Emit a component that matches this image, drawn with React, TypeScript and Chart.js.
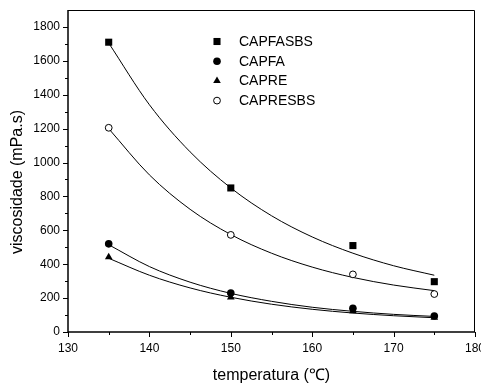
import { useEffect, useRef } from 'react';
import { Chart, registerables } from 'chart.js';
import { drawPoint } from 'chart.js/helpers';

Chart.register(...registerables);

// Measured viscosity (mPa.s) of each binder at the test temperatures (°C)
const seriesNames = ['CAPFASBS', 'CAPFA', 'CAPRE', 'CAPRESBS'];
const temperatures = [135, 150, 165, 175];
const capfasbs = [1710, 850, 510, 297];
const capfa = [520, 230, 140, 94];
const capre = [442, 205, 124, 86];
const capresbs = [1205, 573, 340, 224];

// Fitted decay curves, sampled every 5 °C
const fitTemperatures = [135, 140, 145, 150, 155, 160, 165, 170, 175];
const capfasbsFit = [1705, 1341, 1063, 850, 686, 561, 465, 391, 335];
const capfaFit = [515, 386, 294, 228, 181, 146, 122, 104, 92];
const capreFit = [435, 335, 260, 205, 164, 134, 112, 96, 84];
const capresbsFit = [1200, 927, 724, 575, 465, 383, 322, 277, 244];

const xTitle = 'temperatura (℃)';
const yTitle = 'viscosidade (mPa.s)';

const FONT = '"Liberation Sans", Arial, Helvetica, sans-serif';

type Marker = {
  pointStyle: 'rect' | 'circle' | 'triangle';
  radius: number;
  fill: string;
};

const markers: Marker[] = [
  { pointStyle: 'rect', radius: 5, fill: '#000' },
  { pointStyle: 'circle', radius: 3.8, fill: '#000' },
  { pointStyle: 'triangle', radius: 4.4, fill: '#000' },
  { pointStyle: 'circle', radius: 3.4, fill: '#fff' },
];

const measured = [capfasbs, capfa, capre, capresbs];
const fitted = [capfasbsFit, capfaFit, capreFit, capresbsFit];

// Frame, tick marks, axis titles and the inset legend
const decorations = {
  id: 'decorations',
  afterDraw(chart: Chart) {
    const { ctx, chartArea } = chart;
    const { left, right, top, bottom } = chartArea;
    const x = chart.scales.x;
    const y = chart.scales.y;
    ctx.save();
    ctx.strokeStyle = '#000';
    ctx.fillStyle = '#000';

    // plot frame
    ctx.lineWidth = 1;
    ctx.beginPath();
    ctx.moveTo(left, top + 0.5);
    ctx.lineTo(right - 0.5, top + 0.5);
    ctx.lineTo(right - 0.5, bottom);
    ctx.stroke();
    ctx.lineWidth = 1.5;
    ctx.beginPath();
    ctx.moveTo(left, top);
    ctx.lineTo(left, bottom);
    ctx.lineTo(right, bottom);
    ctx.stroke();

    // y ticks: major on labelled values, minor halfway between
    ctx.lineWidth = 1;
    const yVals = y.ticks.map((t) => t.value);
    ctx.beginPath();
    yVals.forEach((v, i) => {
      const py = Math.round(y.getPixelForValue(v)) + 0.5;
      ctx.moveTo(left - 5, py);
      ctx.lineTo(left, py);
      if (i < yVals.length - 1) {
        const pm = Math.round(y.getPixelForValue((v + yVals[i + 1]) / 2)) + 0.5;
        ctx.moveTo(left - 3, pm);
        ctx.lineTo(left, pm);
      }
    });
    const xVals = x.ticks.map((t) => t.value);
    xVals.forEach((v, i) => {
      const px = Math.round(x.getPixelForValue(v)) + 0.5;
      ctx.moveTo(px, bottom);
      ctx.lineTo(px, bottom + 5);
      if (i < xVals.length - 1) {
        const pm = Math.round(x.getPixelForValue((v + xVals[i + 1]) / 2)) + 0.5;
        ctx.moveTo(pm, bottom);
        ctx.lineTo(pm, bottom + 3);
      }
    });
    ctx.stroke();

    // axis titles
    ctx.font = `16px ${FONT}`;
    ctx.textAlign = 'center';
    ctx.textBaseline = 'alphabetic';
    ctx.fillText(xTitle, (left + right) / 2, 379.5);
    ctx.save();
    ctx.translate(21.5, 182);
    ctx.rotate(-Math.PI / 2);
    ctx.fillText(yTitle, 0, 0);
    ctx.restore();

    // legend
    ctx.font = `14px ${FONT}`;
    ctx.textAlign = 'left';
    ctx.textBaseline = 'middle';
    seriesNames.forEach((name, i) => {
      const rowY = 41.5 + i * 19.7;
      const m = markers[i];
      ctx.fillStyle = m.fill;
      ctx.strokeStyle = '#000';
      ctx.lineWidth = 1;
      drawPoint(ctx, { pointStyle: m.pointStyle, radius: m.radius, rotation: 0, borderWidth: m.fill === '#fff' ? 1 : 0 }, 217, rowY);
      ctx.fillStyle = '#000';
      ctx.fillText(name, 239, rowY + 0.5);
    });
    ctx.restore();
  },
};

export default function App() {
  const canvasRef = useRef<HTMLCanvasElement>(null);

  useEffect(() => {
    if (!canvasRef.current) return;

    const curveSets = fitted.map((vals, i) => ({
      type: 'line' as const,
      label: seriesNames[i] + ' fit',
      data: fitTemperatures.map((t, j) => ({ x: t, y: vals[j] })),
      borderColor: '#000',
      borderWidth: 1,
      pointRadius: 0,
      cubicInterpolationMode: 'monotone' as const,
      fill: false,
      order: 2,
    }));

    const pointSets = measured.map((vals, i) => ({
      type: 'scatter' as const,
      label: seriesNames[i],
      data: temperatures.map((t, j) => ({ x: t, y: vals[j] })),
      pointStyle: markers[i].pointStyle,
      pointRadius: markers[i].radius,
      backgroundColor: markers[i].fill,
      borderColor: '#000',
      pointBorderWidth: markers[i].fill === '#fff' ? 1 : 0,
      showLine: false,
      order: 1,
    }));

    const chart = new Chart(canvasRef.current, {
      type: 'scatter',
      data: { datasets: [...curveSets, ...pointSets] as any },
      plugins: [decorations],
      options: {
        animation: false,
        responsive: true,
        maintainAspectRatio: false,
        devicePixelRatio: 1,
        events: [],
        layout: { padding: { left: 0, top: 10, right: 6, bottom: 0 } },
        plugins: {
          legend: { display: false },
          tooltip: { enabled: false },
        },
        scales: {
          x: {
            type: 'linear',
            min: 130,
            max: 180,
            grid: { display: false, drawTicks: true, tickLength: 5 },
            border: { display: false },
            ticks: {
              stepSize: 10,
              padding: 4,
              color: '#000',
              maxRotation: 0,
              font: { family: FONT, size: 12 },
              callback: (v: any) => String(v),
            },
            afterFit: (scale: any) => {
              scale.height = 52;
              scale.paddingLeft = 0;
              scale.paddingRight = 0;
            },
          },
          y: {
            type: 'linear',
            min: 0,
            max: 1900,
            grid: { display: false, drawTicks: true, tickLength: 5 },
            border: { display: false },
            ticks: {
              stepSize: 200,
              includeBounds: false,
              padding: 3,
              color: '#000',
              font: { family: FONT, size: 12 },
              callback: (v: any) => String(v),
            },
            afterFit: (scale: any) => {
              scale.width = 68;
              scale.paddingTop = 0;
              scale.paddingBottom = 0;
            },
          },
        },
      },
    });

    return () => chart.destroy();
  }, []);

  return (
    <div style={{ position: 'fixed', left: 0, top: 0, width: 481, height: 384, background: '#fff' }}>
      <canvas ref={canvasRef} />
    </div>
  );
}
